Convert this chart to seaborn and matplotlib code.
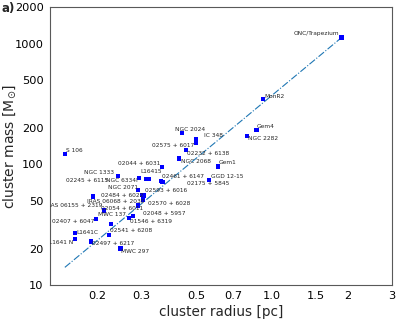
import seaborn as sns
import matplotlib.pyplot as plt
import pandas as pd
from matplotlib.ticker import NullLocator

# datos: radio [pc], masa [Msun]
nombres = ["ONC/Trapezium", "MonR2", "Gem4", "NGC 2282", "IC 348", "02575 + 6017",
           "NGC 2024", "02232 + 6138", "NGC 2068", "Gem1", "GGD 12-15", "S 106",
           "02044 + 6031", "NGC 1333", "NGC 6334I", "L16415", "02245 + 6115",
           "02461 + 6147", "02175 + 5845", "NGC 2071", "02593 + 6016", "02484 + 6022",
           "IRAS 06068 + 2030", "02570 + 6028", "02054 + 6011", "IRAS 06155 + 2319",
           "02048 + 5957", "01546 + 6319", "MWC 137", "02407 + 6047", "02541 + 6208",
           "L1641C", "L1641 N", "02497 + 6217", "MWC 297"]
radio = [1.89, 0.921, 0.868, 0.796, 0.497, 0.497,
         0.438, 0.453, 0.426, 0.610, 0.561, 0.149,
         0.364, 0.243, 0.294, 0.314, 0.321,
         0.360, 0.365, 0.291, 0.303, 0.309,
         0.193, 0.306, 0.291, 0.214,
         0.278, 0.269, 0.228, 0.198, 0.223,
         0.164, 0.164, 0.189, 0.248]
masa = [1120, 346, 192, 172, 160, 151,
        181, 131, 112, 96, 74, 122,
        95, 80, 77, 76, 76,
        73, 71, 61, 56, 55,
        54, 51, 45.5, 41.4,
        37.1, 36.1, 32.0, 35.3, 25.9,
        27.0, 24.0, 23.0, 20.0]

# recta de ajuste
ajuste_r = [0.149, 1.89]
ajuste_m = [14.0, 1120]

# desplazamiento de las etiquetas (pixeles) y alineacion
desp = [(-2, 4, "right"), (1, 3, "left"), (0, 4, "left"), (1, -3, "left"),
        (8, 4.5, "left"), (-2, -2.5, "right"), (-7, 4, "left"), (1, -3, "left"),
        (2, -3, "left"), (0, 4, "left"), (1.5, 4, "left"), (1, 3.5, "left"),
        (-1.5, 4, "right"), (-4, 4, "right"), (-1, -2, "right"), (-6, 7, "left"),
        (-40, -2.3, "right"), (1, 4, "left"), (25, -1.7, "left"), (0, 3, "right"),
        (3, 4, "left"), (-1, 0, "right"), (-6, -5, "left"), (5, -3.5, "left"),
        (5, -3.3, "right"), (-2, 5.5, "right"), (10, 2.4, "left"), (1, -3.7, "left"),
        (-13, 9.3, "left"), (-1, -3, "right"), (1, 4.3, "left"), (1, 0.6, "left"),
        (-2, -3, "right"), (1.3, -2.3, "left"), (1, -2.7, "left")]

df = pd.DataFrame({"radio": radio, "masa": masa, "nombre": nombres})

sns.set_style("white")
fig = plt.figure(figsize=(3.99, 3.19), dpi=100)
ax = fig.add_axes([0.1253, 0.1066, 0.8564, 0.8705])

ax.plot(ajuste_r, ajuste_m, linestyle="-.", color="#1f77b4", linewidth=0.8)
sns.scatterplot(x="radio", y="masa", data=df, marker="s", color="blue",
                s=10, edgecolor="none", linewidth=0, ax=ax, zorder=3)

for (nom, r, m), (dx, dy, ha) in zip(zip(nombres, radio, masa), desp):
    ax.annotate(nom, (r, m), xytext=(dx, dy), textcoords="offset pixels",
                fontsize=4.2, ha=ha, va="center", clip_on=True)

ax.set_xscale("log")
ax.set_yscale("log")
ax.set_xlim(0.13, 3)
ax.set_ylim(10, 2000)
ax.set_xticks([0.2, 0.3, 0.5, 0.7, 1.0, 1.5, 2, 3])
ax.set_xticklabels(["0.2", "0.3", "0.5", "0.7", "1.0", "1.5", "2", "3"])
ax.set_yticks([10, 20, 50, 100, 200, 500, 1000, 2000])
ax.set_yticklabels(["10", "20", "50", "100", "200", "500", "1000", "2000"])
ax.xaxis.set_minor_locator(NullLocator())
ax.yaxis.set_minor_locator(NullLocator())
ax.tick_params(labelsize=8.2, colors="black", pad=1)
ax.set_xlabel("cluster radius [pc]", fontsize=9.8)
ax.xaxis.set_label_coords(0.5, -0.072)
ax.set_ylabel(r"cluster mass [M$_{\odot}$]", fontsize=10)
ax.yaxis.set_label_coords(-0.095, 0.5)
for s in ax.spines.values():
    s.set_color("0.35")
    s.set_linewidth(0.8)

fig.text(0.003, 0.995, "a)", fontsize=8.5, fontweight="bold", va="top", ha="left")

fig.savefig("out.png", dpi=100)
